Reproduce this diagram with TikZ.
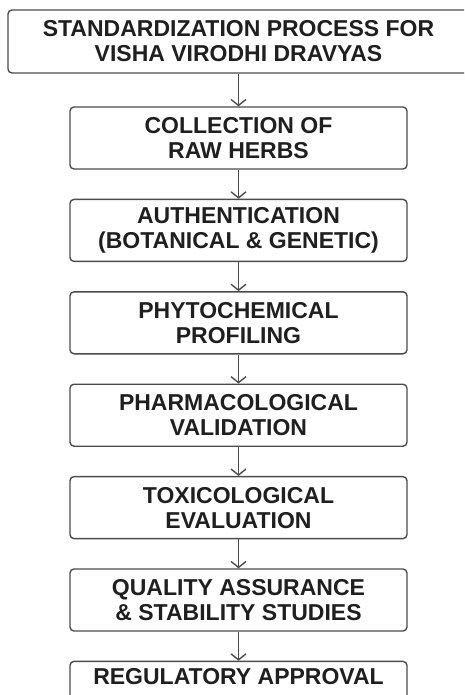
\documentclass[tikz,border=0pt]{standalone}
\usepackage{fontspec}
\setmainfont{Liberation Sans}
\usetikzlibrary{positioning,arrows.meta}

\begin{document}
\begin{tikzpicture}[x=1pt, y=1pt, node distance={29pt}, line width=1.4pt,
  >={Straight Barb[length=6pt,width=15pt]},
  main/.style = {draw=black!70, rounded corners=4pt, minimum width=337pt, minimum height=62pt,
    inner sep=0pt, align=center, text=black!88, font=\bfseries\fontsize{23}{25}\selectfont},
  head/.style = {main, minimum width=461pt, minimum height=63pt}]
\useasboundingbox (0,0) rectangle (464,-695);
\clip (0,0) rectangle (464,-695);
\node[head] (1) at (238.5,-41.5) {STANDARDIZATION PROCESS FOR\\VISHA VIRODHI DRAVYAS};
\node[main] (2) [below=32.6pt of 1] {COLLECTION OF\\RAW HERBS};
\node[main] (3) [below=of 2] {AUTHENTICATION\\(BOTANICAL \& GENETIC)};
\node[main] (4) [below=of 3] {PHYTOCHEMICAL\\PROFILING};
\node[main] (5) [below=of 4] {PHARMACOLOGICAL\\VALIDATION};
\node[main] (6) [below=of 5] {TOXICOLOGICAL\\EVALUATION};
\node[main] (7) [below=of 6] {QUALITY ASSURANCE\\\& STABILITY STUDIES};
\node[main] (8) [below=of 7] {REGULATORY APPROVAL\\\strut};
\draw[->, draw=black!70] (1) -- (2);
\draw[->, draw=black!70] (2) -- (3);
\draw[->, draw=black!70] (3) -- (4);
\draw[->, draw=black!70] (4) -- (5);
\draw[->, draw=black!70] (5) -- (6);
\draw[->, draw=black!70] (6) -- (7);
\draw[->, draw=black!70] (7) -- (8);
\end{tikzpicture}
\end{document}
